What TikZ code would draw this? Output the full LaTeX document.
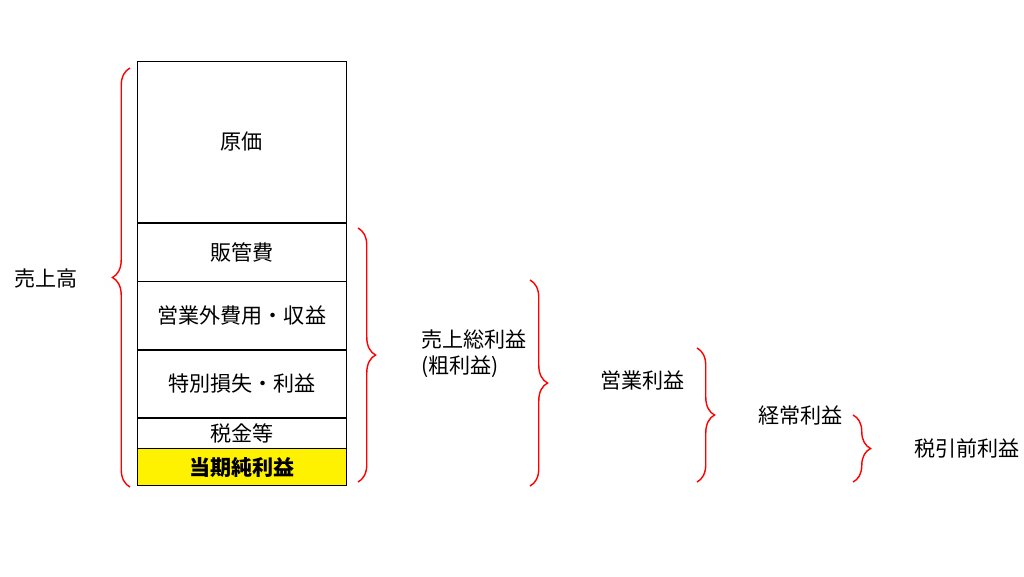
\documentclass[tikz,border=0pt]{standalone}
\usepackage{fontspec}
\setmainfont{Noto Sans CJK JP}
\usetikzlibrary{decorations.pathreplacing}
\begin{document}
\begin{tikzpicture}[x=0.02cm, y=-0.02cm,
    row/.style = {draw, minimum width=4.18cm, font=\fontsize{12}{14}\selectfont, inner sep=0pt},
    brc/.style = {draw=red, thick, decorate, decoration={brace, amplitude=10pt}},
    lbl/.style = {font=\fontsize{12}{15}\selectfont, align=left, anchor=west}]
        \useasboundingbox (0,0) rectangle (1024,576);

        \node[row, minimum height=3.22cm, anchor=north west] (genka) at (137, 61) {原価};
        \node[row, minimum height=1.16cm, anchor=north] (hankan) at (genka.south) {販管費};
        \node[row, minimum height=1.36cm, anchor=north] (eigyogai) at (hankan.south) {営業外費用・収益};
        \node[row, minimum height=1.34cm, anchor=north] (tokubetsu) at (eigyogai.south) {特別損失・利益};
        \node[row, minimum height=0.6cm, anchor=north] (zeikin) at (tokubetsu.south) {税金等};
        \node[row, minimum height=0.74cm, anchor=north, fill=yellow, font=\fontsize{12}{14}\selectfont\bfseries] (junri) at (zeikin.south) {当期純利益};

        \node[lbl] (uriage) at (8, 278) {売上高};
        \node[lbl] (arari) at (415, 354) {売上総利益\\(粗利益)};
        \node[lbl] (eigyo) at (594, 380) {営業利益};
        \node[lbl] (keijo) at (752, 415) {経常利益};
        \node[lbl] (zeibiki) at (908, 448) {税引前利益};

        \draw[brc] (130, 487) -- (130, 68);
        \draw[brc] (358, 228) -- (358, 482);
        \draw[brc] (530, 280) -- (530, 486);
        \draw[brc] (697, 348) -- (697, 482);
        \draw[brc] (853, 415) -- (853, 482);
    \end{tikzpicture}
\end{document}
